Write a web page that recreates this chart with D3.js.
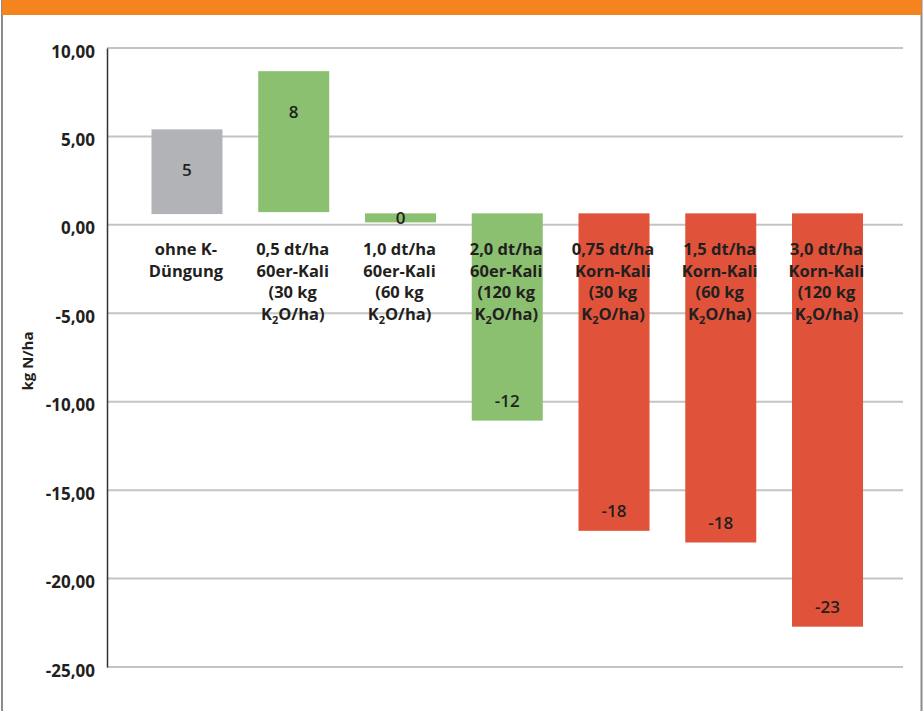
<!DOCTYPE html>
<html>
<head>
<meta charset="utf-8">
<script src="https://cdn.jsdelivr.net/npm/d3@7"></script>
<style>
  html, body { margin: 0; padding: 0; background: #fff; }
  svg { display: block; font-family: "Open Sans", "Noto Sans", sans-serif; }
</style>
</head>
<body>
<svg id="chart" width="924" height="711"></svg>
<script>
// ---- data ----
const categories = ["ohne K", "0,5 60er", "1,0 60er", "2,0 60er", "0,75 Korn", "1,5 Korn", "3,0 Korn"];
const categoryLines = [
  ["ohne K-", "Düngung"],
  ["0,5 dt/ha", "60er-Kali", "(30 kg", "K2O/ha)"],
  ["1,0 dt/ha", "60er-Kali", "(60 kg", "K2O/ha)"],
  ["2,0 dt/ha", "60er-Kali", "(120 kg", "K2O/ha)"],
  ["0,75 dt/ha", "Korn-Kali", "(30 kg", "K2O/ha)"],
  ["1,5 dt/ha", "Korn-Kali", "(60 kg", "K2O/ha)"],
  ["3,0 dt/ha", "Korn-Kali", "(120 kg", "K2O/ha)"]
];
const valueLabels = [5, 8, 0, -12, -18, -18, -23];
const barFrom = [0.61, 0.72, 0.65, 0.65, 0.65, 0.65, 0.65];
const barTo = [5.40, 8.69, 0.14, -11.07, -17.30, -17.96, -22.72];
const groups = ["none", "60er", "60er", "60er", "korn", "korn", "korn"];
const yTicks = [10, 5, 0, -5, -10, -15, -20, -25];
const yTitle = "kg N/ha";

// ---- styles ----
const colors = { none: "#b2b3b7", "60er": "#8bc070", korn: "#e0533a" };
const textColor = "#231f20";

const svg = d3.select("#chart");

// frame + header
svg.append("rect").attr("x", 0).attr("y", 0).attr("width", 924).attr("height", 711).attr("fill", "#fff");
svg.append("line").attr("x1", 2).attr("x2", 2).attr("y1", 0).attr("y2", 711).attr("stroke", "#8c8c8c").attr("stroke-width", 2);
svg.append("line").attr("x1", 921.5).attr("x2", 921.5).attr("y1", 0).attr("y2", 711).attr("stroke", "#8c8c8c").attr("stroke-width", 2);
svg.append("rect").attr("x", 2).attr("y", 0).attr("width", 919.5).attr("height", 15).attr("fill", "#f5841f");

// scales
const y = d3.scaleLinear().domain([-25, 10]).range([667, 48]);
const x = d3.scaleBand().domain(categories).range([133.6, 880.9]).padding(0);
const barW = 71;

const locale = d3.formatLocale({ decimal: ",", thousands: ".", grouping: [3], currency: ["", " €"], minus: "-" });
const fmt = locale.format(".2f");

// gridlines
svg.append("g").selectAll("line").data(yTicks).join("line")
  .attr("x1", 107).attr("x2", 903)
  .attr("y1", d => y(d)).attr("y2", d => y(d))
  .attr("stroke", "#c4c4c4").attr("stroke-width", 2);

// y axis
const yAxis = svg.append("g").attr("transform", "translate(107,0)")
  .call(d3.axisLeft(y).tickValues(yTicks).tickSize(0).tickPadding(12).tickFormat(fmt));
yAxis.select(".domain").attr("stroke", "#333").attr("stroke-width", 1.5);
yAxis.selectAll("text")
  .attr("fill", textColor)
  .attr("font-size", 17).attr("font-weight", 700)
  .attr("font-family", "'Open Sans', sans-serif")
  .attr("dy", "0.65em").attr("y", -2);

// y title
svg.append("text")
  .attr("transform", "translate(33,361) rotate(-90)")
  .attr("text-anchor", "middle")
  .attr("fill", textColor).attr("font-size", 15).attr("font-weight", 700)
  .text(yTitle);

// bars
const idx = d3.range(categories.length);
svg.append("g").selectAll("rect").data(idx).join("rect")
  .attr("x", i => x(categories[i]) + x.bandwidth() / 2 - barW / 2)
  .attr("width", barW)
  .attr("y", i => Math.min(y(barFrom[i]), y(barTo[i])))
  .attr("height", i => Math.abs(y(barFrom[i]) - y(barTo[i])))
  .attr("fill", i => colors[groups[i]]);

// category labels
const catG = svg.append("g");
idx.forEach(i => {
  const cx = x(categories[i]) + x.bandwidth() / 2 - 1;
  categoryLines[i].forEach((ln, j) => {
    const t = catG.append("text")
      .attr("x", cx).attr("y", 255 + j * 21.5)
      .attr("text-anchor", "middle")
      .attr("fill", textColor).attr("font-size", 16.5).attr("font-weight", 700);
    if (ln.indexOf("K2O") === 0) {
      t.append("tspan").text("K");
      t.append("tspan").attr("font-size", 11).attr("dy", 4).text("2");
      t.append("tspan").attr("dy", -4).text(ln.slice(2));
    } else {
      t.text(ln);
    }
  });
});

// value labels
svg.append("g").selectAll("text").data(idx).join("text")
  .attr("x", i => x(categories[i]) + x.bandwidth() / 2)
  .attr("y", i => {
    const v = valueLabels[i];
    if (v > 0) return y(barTo[i]) + 41;
    if (v < 0) return y(barTo[i]) - 20;
    return (y(barFrom[i]) + y(barTo[i])) / 2;
  })
  .attr("dy", "0.36em")
  .attr("text-anchor", "middle")
  .attr("fill", textColor).attr("font-size", 17).attr("font-weight", 600)
  .text(i => String(valueLabels[i]));
</script>
</body>
</html>
